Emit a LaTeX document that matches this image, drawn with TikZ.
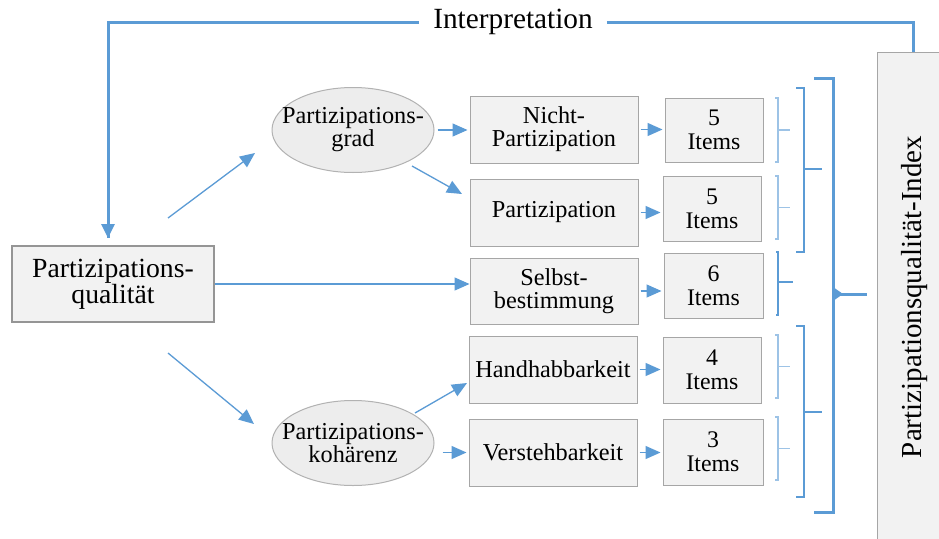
\documentclass[tikz,border=0pt]{standalone}
\usepackage{fontspec}
\setmainfont{Liberation Serif}
\usetikzlibrary{arrows.meta,shapes.geometric,calc}

\definecolor{linkblue}{HTML}{5B9BD5}
\definecolor{paleblue}{HTML}{9DC3E6}
\definecolor{boxfill}{HTML}{F2F2F2}
\definecolor{boxline}{HTML}{A6A6A6}
\definecolor{ellfill}{HTML}{EDEDED}
\definecolor{ellline}{HTML}{B2B2B2}

\tikzset{
  stepbox/.style={rectangle, fill=boxfill, draw=boxline, line width=1pt,
    inner sep=0pt, align=center, font=\fontsize{24.3}{23}\selectfont},
  itembox/.style={stepbox, font=\fontsize{23.8}{24}\selectfont},
  mainbox/.style={stepbox, draw=boxline!90!black, line width=1.6pt,
    font=\fontsize{27.7}{25}\selectfont},
  oval/.style={ellipse, fill=ellfill, draw=ellline, line width=1pt,
    inner sep=0pt, minimum width=162pt, minimum height=85pt},
  ovaltext/.style={inner sep=0pt, align=center,
    font=\fontsize{24.3}{23}\selectfont},
  link/.style={draw=linkblue, line width=1.3pt,
    -{Triangle[length=15pt,width=13pt]}},
  feedback/.style={draw=linkblue, line width=3pt},
  thinbrace/.style={draw=paleblue, line width=1.2pt},
  midbrace/.style={draw=linkblue, line width=2.2pt},
  bigbrace/.style={draw=linkblue, line width=3pt},
}

\begin{document}
\begin{tikzpicture}[x=1pt, y=-1pt]
\useasboundingbox (0,0) rectangle (939,538);
\fill[white] (0,0) rectangle (939,538);

% side panel with the index
\node[stepbox, minimum width=72pt, minimum height=500pt, anchor=north west]
  (index) at (877,52) {};
\node[rotate=90, font=\fontsize{29}{29}\selectfont] (indextext) at (915,297)
  {Partizipationsqualität-Index};

% feedback loop
\node[font=\fontsize{29.3}{29}\selectfont, inner xsep=14pt] (interp) at (513,22)
  {Interpretation};
\node[mainbox, minimum width=202pt, minimum height=76pt] (qual) at (113,284)
  {Partizipations-\\qualität};
\coordinate (loopend) at (108,238);
\draw[feedback] (interp.west) -| (loopend);
\draw[feedback, -{Triangle[length=14pt,width=13pt]}]
  (loopend |- interp.west) ++(0,10) -- (loopend);
\draw[feedback] (interp.east) -| (index.north);

% dimensions (ellipse drawn first, label on top)
\node[oval] (grad) at (353,130) {};
\node[ovaltext] (gradtext) at (grad) {Partizipations-\\grad};
\node[oval] (koh) at (353,443) {};
\node[ovaltext] (kohtext) at (koh) {Partizipations-\\kohärenz};

% sub-dimensions
\node[stepbox, minimum width=168pt, minimum height=67pt] (nicht) at (554,129.5)
  {Nicht-\\Partizipation};
\node[stepbox, minimum width=168pt, minimum height=67pt] (part) at (554,212.5)
  {Partizipation};
\node[stepbox, minimum width=168pt, minimum height=66pt] (selbst) at (554,291)
  {Selbst-\\bestimmung};
\node[stepbox, minimum width=168pt, minimum height=67pt] (hand) at (553,369.5)
  {Handhabbarkeit};
\node[stepbox, minimum width=168pt, minimum height=67pt] (verst) at (553,452.5)
  {Verstehbarkeit};

% item counts
\node[itembox, minimum width=98pt, minimum height=64pt] (it1) at (714,130)
  {5\\Items};
\node[itembox, minimum width=98pt, minimum height=65pt] (it2) at (712,208.5)
  {5\\Items};
\node[itembox, minimum width=99pt, minimum height=65pt] (it3) at (713.5,285.5)
  {6\\Items};
\node[itembox, minimum width=98pt, minimum height=66pt] (it4) at (712,370)
  {4\\Items};
\node[itembox, minimum width=100pt, minimum height=66pt] (it5) at (713,452)
  {3\\Items};

% connectors
\coordinate (upfrom) at (168,218);
\coordinate (upto) at (255,153);
\coordinate (downfrom) at (168,353);
\coordinate (downto) at (254,424);
\draw[link] (upfrom) -- (upto);
\draw[link] (downfrom) -- (downto);
\draw[link] (qual.east) -- (qual.east -| selbst.west);

\draw[link, shorten <=3pt, shorten >=2pt] (grad.east) -- (grad.east -| nicht.west);
\coordinate (gradlow) at (412,166);
\coordinate (partin) at (462,194);
\draw[link] (gradlow) -- (partin);
\coordinate (kohup) at (415,413);
\coordinate (handin) at (467,383);
\draw[link] (kohup) -- (handin);
\draw[link, shorten <=8pt, shorten >=2pt] (koh.east |- verst.west) -- (verst.west);

\foreach \a/\b in {nicht/it1, part/it2, selbst/it3, hand/it4, verst/it5}
  \draw[link, shorten <=2pt, shorten >=2pt] (\a.east) -- (\a.east -| \b.west);

% braces grouping the items
\foreach \t/\b in {98/162, 176/239, 335/398, 417/480} {
  \draw[thinbrace] (775,\t) -- (778,\t) -- (778,\b) -- (775,\b);
  \draw[thinbrace] (778,{(\t+\b)/2}) -- (790,{(\t+\b)/2});
}
\draw[midbrace] (776,252) -- (778,252) -- (778,315) -- (776,315);
\draw[midbrace] (778,282) -- (793,282);

\draw[midbrace] (796,88) -- (804,88) -- (804,252) -- (796,252);
\draw[midbrace] (804,169) -- (822,169);
\draw[midbrace] (796,326) -- (804,326) -- (804,497) -- (796,497);
\draw[midbrace] (804,412) -- (822,412);

\draw[bigbrace] (814,78) -- (833,78) -- (833,512) -- (814,512);
\draw[bigbrace] (833,294) -- (867,294);
\fill[linkblue] (833,287) -- (843,294) -- (833,301) -- cycle;
\end{tikzpicture}
\end{document}
